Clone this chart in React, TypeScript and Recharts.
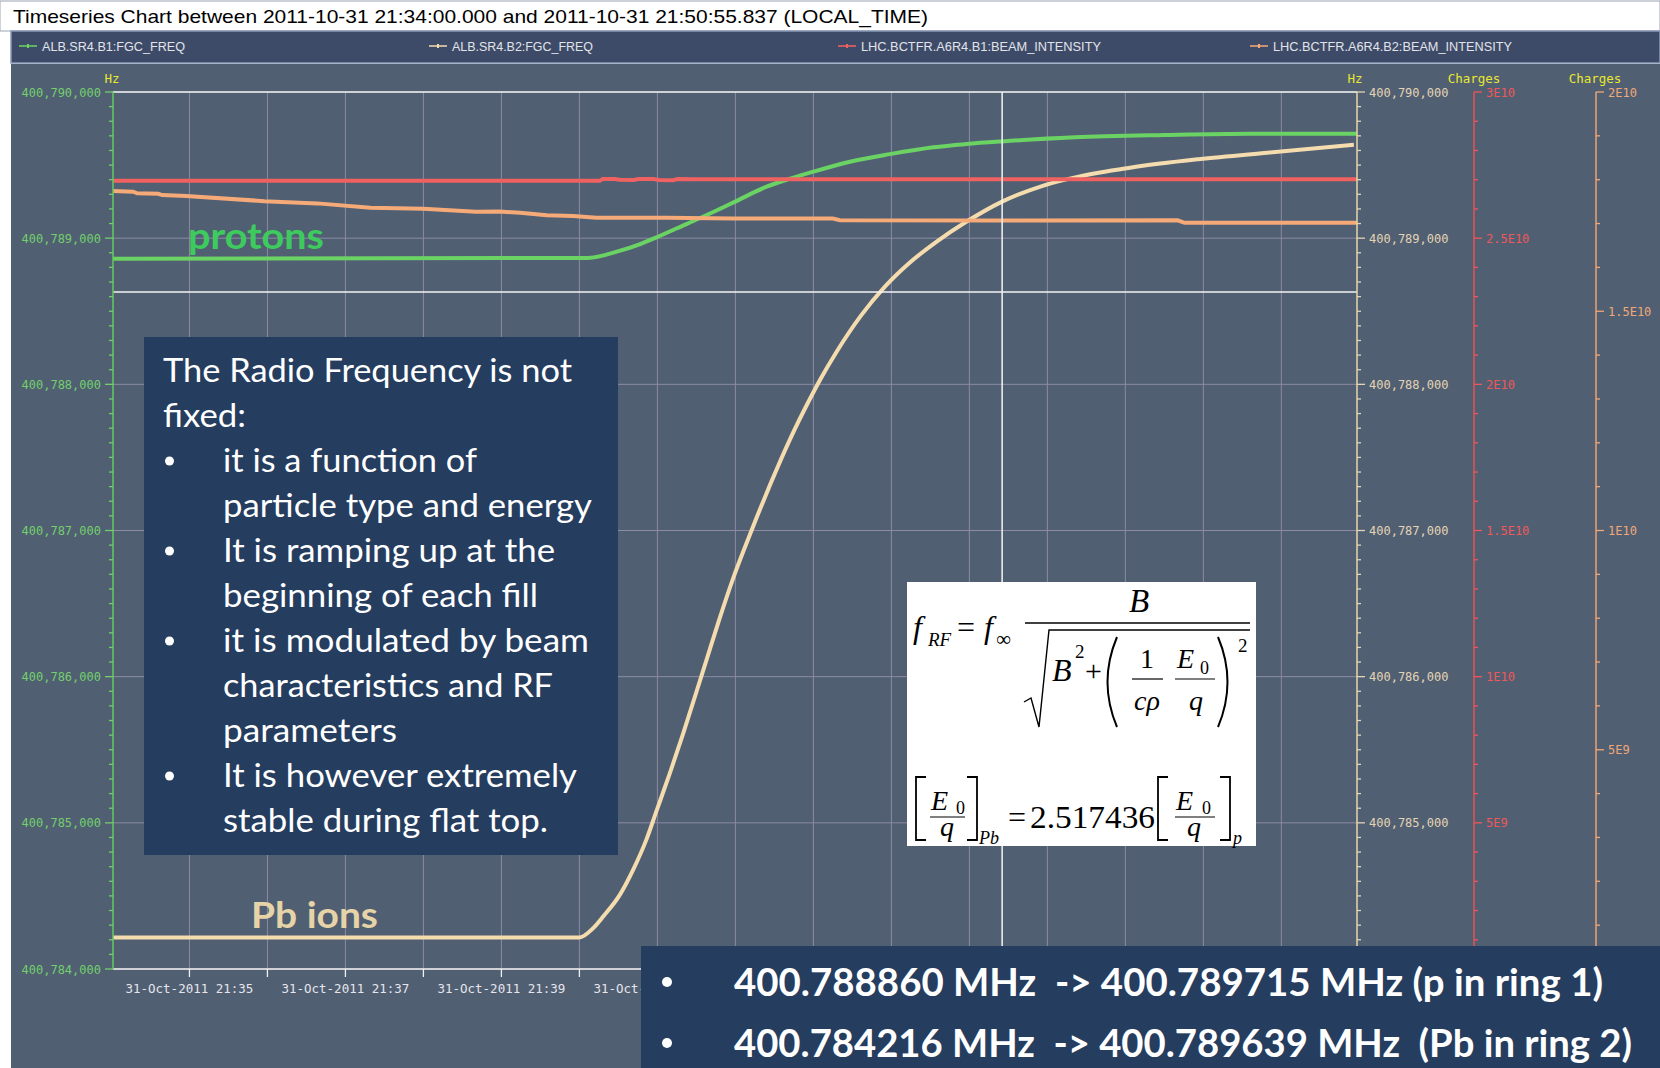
import { LineChart, Line, XAxis, YAxis, CartesianGrid, ReferenceLine } from "recharts";

// minutes after 31-Oct-2011 21:34:00
const protonMinutes = [0.02, 6.11, 6.48, 6.78, 6.99, 7.25, 7.54, 7.97, 8.4, 8.7, 9.0, 9.47, 9.98, 10.54, 10.96, 11.42, 12.35, 13.5, 14.6, 15.97];
const protonHz = [400788860, 400788865, 400788908, 400788960, 400789006, 400789068, 400789136, 400789243, 400789352, 400789407, 400789455, 400789523, 400789575, 400789622, 400789644, 400789662, 400789690, 400789706, 400789715, 400789715];

const leadMinutes = [0.02, 6.0, 6.18, 6.31, 6.52, 6.69, 6.86, 6.99, 7.16, 7.33, 7.5, 7.63, 7.8, 7.97, 8.14, 8.27, 8.44, 8.7, 8.96, 9.09, 9.3, 9.61, 9.92, 10.23, 10.59, 10.94, 11.42, 11.95, 12.4, 13.06, 13.94, 14.82, 15.93];
const leadHz = [400784216, 400784216, 400784281, 400784362, 400784509, 400784680, 400784887, 400785083, 400785340, 400785610, 400785895, 400786115, 400786402, 400786671, 400786910, 400787086, 400787307, 400787624, 400787905, 400788035, 400788225, 400788470, 400788670, 400788830, 400788980, 400789105, 400789250, 400789360, 400789421, 400789482, 400789540, 400789585, 400789639];

const b1IntensityMinutes = [0.02, 6.26, 6.3, 6.45, 6.52, 6.7, 6.76, 6.95, 7.02, 7.2, 7.26, 7.45, 7.5, 15.97];
const b1Intensity = [2.6966e10, 2.6966e10, 2.7024e10, 2.7024e10, 2.6995e10, 2.699e10, 2.7022e10, 2.702e10, 2.6988e10, 2.6985e10, 2.702e10, 2.7018e10, 2.7014e10, 2.7014e10];

const b2IntensityMinutes = [0.02, 0.28, 0.33, 0.6, 0.65, 0.96, 1.96, 2.64, 3.32, 4.0, 4.67, 4.98, 5.24, 5.58, 5.92, 6.22, 7.12, 7.97, 9.25, 9.34, 11.39, 13.67, 13.76, 15.97];
const b2Intensity = [1.774e10, 1.7725e10, 1.769e10, 1.768e10, 1.765e10, 1.763e10, 1.751e10, 1.746e10, 1.736e10, 1.734e10, 1.727e10, 1.7273e10, 1.7245e10, 1.719e10, 1.717e10, 1.713e10, 1.7132e10, 1.7113e10, 1.7113e10, 1.7075e10, 1.707e10, 1.7075e10, 1.7017e10, 1.7017e10];

const minuteTicks = [1, 2, 3, 4, 5, 6, 7, 8, 9, 10, 11, 12, 13, 14, 15];
const minuteLabels = ["21:35", "21:36", "21:37", "21:38", "21:39", "21:40", "21:41", "21:42", "21:43", "21:44", "21:45", "21:46", "21:47", "21:48", "21:49"];

const hzMajor = [400784000, 400785000, 400786000, 400787000, 400788000, 400789000, 400790000];
const hzLabels = ["400,784,000", "400,785,000", "400,786,000", "400,787,000", "400,788,000", "400,789,000", "400,790,000"];
const b1Major = [5e9, 1e10, 1.5e10, 2e10, 2.5e10, 3e10];
const b1Labels = ["5E9", "1E10", "1.5E10", "2E10", "2.5E10", "3E10"];
const b2Major = [5e9, 1e10, 1.5e10, 2e10];
const b2Labels = ["5E9", "1E10", "1.5E10", "2E10"];

const crosshairMinute = 11.42;
const crosshairHz = 400788632;

const legendNames = ["ALB.SR4.B1:FGC_FREQ", "ALB.SR4.B2:FGC_FREQ", "LHC.BCTFR.A6R4.B1:BEAM_INTENSITY", "LHC.BCTFR.A6R4.B2:BEAM_INTENSITY"];

const GREEN = "#6bd363";
const WHEAT = "#f5dcae";
const RED = "#f06262";
const ORANGE = "#f5aa78";
const BG = "#515f73";
const NAVY = "#253d5f";
const YELLOW = "#e8e830";

const toRows = (xs: number[], ys: number[]) => xs.map((t, i) => ({ t, v: ys[i] }));
const protonData = toRows(protonMinutes, protonHz);
const leadData = toRows(leadMinutes, leadHz);
const b1Data = toRows(b1IntensityMinutes, b1Intensity);
const b2Data = toRows(b2IntensityMinutes, b2Intensity);

// minor tick positions between the labelled majors
const subTicks = (lo: number, hi: number, step: number) => {
  const out: number[] = [];
  const n = Math.round((hi - lo) / step);
  for (let i = 0; i <= n; i++) out.push(lo + i * step);
  return out;
};

const makeYTick = (side: "left" | "right", color: string, majors: number[], labels: string[]) => (props: any) => {
  const { x, y, payload } = props;
  const idx = majors.findIndex((m) => Math.abs(m - payload.value) < Math.abs(m) * 1e-9 + 1e-3);
  const dir = side === "left" ? -1 : 1;
  const len = idx >= 0 ? 8 : 4;
  // right-hand labels at the very bottom are hidden by the summary box
  const show = idx >= 0 && !(side === "right" && y > 940);
  return (
    <g>
      <line x1={x} x2={x + dir * len} y1={y} y2={y} stroke={color} strokeWidth={1.3} />
      {show && (
        <text x={x + dir * 12} y={y} dy={4.5} textAnchor={side === "left" ? "end" : "start"} fill={color} fontSize={12} fontFamily="DejaVu Sans Mono">
          {labels[idx]}
        </text>
      )}
    </g>
  );
};

const LeftHzTick = makeYTick("left", "#72cf6c", hzMajor, hzLabels);
const RightHzTick = makeYTick("right", "#e3d4b4", hzMajor, hzLabels);
const B1Tick = makeYTick("right", "#ee5858", b1Major, b1Labels);
const B2Tick = makeYTick("right", "#f0a878", b2Major, b2Labels);

const TimeTick = (props: any) => {
  const { x, y, payload } = props;
  const i = minuteTicks.indexOf(payload.value);
  // labels further right sit under the summary box
  const show = i >= 0 && i % 2 === 0 && x < 700;
  return (
    <g>
      <line x1={x} x2={x} y1={y} y2={y + 8} stroke="#f0f0f0" strokeWidth={1.3} />
      {show && (
        <text x={x} y={y + 23.5} textAnchor="middle" fill="#e6e6ec" fontSize={12.5} fontFamily="DejaVu Sans Mono">
          {"31-Oct-2011 " + minuteLabels[i]}
        </text>
      )}
    </g>
  );
};

const boxLines = [
  { text: "The Radio Frequency is not", x: 163, w: 409, bullet: false },
  { text: "fixed:", x: 163, w: 83, bullet: false },
  { text: "it is a function of", x: 223, w: 254, bullet: true },
  { text: "particle type and energy", x: 223, w: 369, bullet: false },
  { text: "It is ramping up at the", x: 223, w: 332, bullet: true },
  { text: "beginning of each fill", x: 223, w: 315, bullet: false },
  { text: "it is modulated by beam", x: 223, w: 366, bullet: true },
  { text: "characteristics and RF", x: 223, w: 330, bullet: false },
  { text: "parameters", x: 223, w: 174, bullet: false },
  { text: "It is however extremely", x: 223, w: 354, bullet: true },
  { text: "stable during flat top.", x: 223, w: 325, bullet: false },
];

const serif = "Liberation Serif, DejaVu Serif, serif";

const Formula = () => (
  <g fill="#000" fontFamily={serif}>
    <rect x={907} y={582} width={349} height={264} fill="#ffffff" />
    <text x={913} y={638} fontSize={32} fontStyle="italic">f</text>
    <text x={928} y={646} fontSize={19} fontStyle="italic">RF</text>
    <text x={957} y={638} fontSize={32}>=</text>
    <text x={984} y={638} fontSize={32} fontStyle="italic">f</text>
    <text x={996} y={646} fontSize={21}>∞</text>
    <text x={1139} y={612} fontSize={33} fontStyle="italic" textAnchor="middle">B</text>
    <line x1={1025} x2={1250} y1={623} y2={623} stroke="#000" strokeWidth={1.3} />
    <path d="M1024,702 L1031,698 L1039,727 L1049,630 L1250,630" fill="none" stroke="#000" strokeWidth={1.4} />
    <text x={1052} y={681} fontSize={32} fontStyle="italic">B</text>
    <text x={1075} y={658} fontSize={19}>2</text>
    <text x={1085} y={681} fontSize={30}>+</text>
    <path d="M1117,637 Q1098,682 1117,727" fill="none" stroke="#000" strokeWidth={2} />
    <text x={1147} y={668} fontSize={28} textAnchor="middle">1</text>
    <line x1={1132} x2={1163} y1={679} y2={679} stroke="#000" strokeWidth={1.2} />
    <text x={1147} y={710} fontSize={28} fontStyle="italic" textAnchor="middle">cρ</text>
    <text x={1177} y={668} fontSize={28} fontStyle="italic">E</text>
    <text x={1200} y={674} fontSize={18}>0</text>
    <line x1={1175} x2={1215} y1={679} y2={679} stroke="#000" strokeWidth={1.2} />
    <text x={1196} y={710} fontSize={28} fontStyle="italic" textAnchor="middle">q</text>
    <path d="M1218,637 Q1237,682 1218,727" fill="none" stroke="#000" strokeWidth={2} />
    <text x={1238} y={652} fontSize={19}>2</text>

    <path d="M926,777 L916,777 L916,840 L926,840" fill="none" stroke="#000" strokeWidth={1.8} />
    <text x={931} y={810} fontSize={28} fontStyle="italic">E</text>
    <text x={956} y={814} fontSize={18}>0</text>
    <line x1={930} x2={965} y1={817} y2={817} stroke="#000" strokeWidth={1.2} />
    <text x={947} y={836} fontSize={28} fontStyle="italic" textAnchor="middle">q</text>
    <path d="M967,777 L977,777 L977,840 L967,840" fill="none" stroke="#000" strokeWidth={1.8} />
    <text x={979} y={844} fontSize={18} fontStyle="italic">Pb</text>
    <text x={1008} y={828} fontSize={32}>=</text>
    <text x={1030} y={828} fontSize={32} textLength={125} lengthAdjust="spacingAndGlyphs">2.517436</text>
    <path d="M1168,777 L1158,777 L1158,840 L1168,840" fill="none" stroke="#000" strokeWidth={1.8} />
    <text x={1176} y={810} fontSize={28} fontStyle="italic">E</text>
    <text x={1202} y={814} fontSize={18}>0</text>
    <line x1={1175} x2={1215} y1={817} y2={817} stroke="#000" strokeWidth={1.2} />
    <text x={1194} y={836} fontSize={28} fontStyle="italic" textAnchor="middle">q</text>
    <path d="M1220,777 L1230,777 L1230,840 L1220,840" fill="none" stroke="#000" strokeWidth={1.8} />
    <text x={1233} y={844} fontSize={18} fontStyle="italic">p</text>
  </g>
);

const legendX = [19, 429, 838, 1250];
const legendColors = [GREEN, WHEAT, RED, ORANGE];
const legendWidths = [143, 141, 240, 239];

export default function App() {
  return (
    <div style={{ position: "absolute", left: 0, top: 0, width: 1660, height: 1068, overflow: "hidden", background: "#fff" }}>
      <svg width={1660} height={1068} style={{ position: "absolute", left: 0, top: 0 }}>
        <rect x={0} y={1} width={1660} height={30} fill="#fff" stroke="#9aa4b4" strokeWidth={1} />
        <rect x={11} y={31} width={1649} height={32} fill="#3d4b68" stroke="#8a9bb8" strokeWidth={1.5} />
        <rect x={11} y={64} width={1649} height={1004} fill={BG} />
      </svg>

      <div style={{ position: "absolute", left: 0, top: 0 }}>
        <LineChart width={1660} height={1068} margin={{ top: 92, right: 0, bottom: 59, left: 13 }}>
          <CartesianGrid yAxisId="left" horizontalValues={hzMajor} verticalValues={minuteTicks} stroke="#8d8aa4" strokeWidth={1} />
          <XAxis dataKey="t" type="number" domain={[0.02, 15.97]} allowDataOverflow ticks={minuteTicks} interval={0}
            tick={TimeTick} tickSize={0} tickMargin={0} tickLine={false} height={40}
            axisLine={{ stroke: "#f0f0f0", strokeWidth: 1.5 }} />
          <YAxis yAxisId="left" orientation="left" type="number" width={100} domain={[400784000, 400790000]} allowDataOverflow
            ticks={subTicks(400784000, 400790000, 100)} interval={0} tick={LeftHzTick} tickSize={0} tickMargin={0} tickLine={false}
            axisLine={{ stroke: "#63c85f", strokeWidth: 1.5 }} />
          <YAxis yAxisId="rA_hz" orientation="right" type="number" width={117} domain={[400784000, 400790000]} allowDataOverflow
            ticks={subTicks(400784000, 400790000, 100)} interval={0} tick={RightHzTick} tickSize={0} tickMargin={0} tickLine={false}
            axisLine={{ stroke: "#e6d4aa", strokeWidth: 1.5 }} />
          <YAxis yAxisId="rB_b1" orientation="right" type="number" width={122} domain={[0, 3e10]} allowDataOverflow
            ticks={subTicks(0, 3e10, 1e9)} interval={0} tick={B1Tick} tickSize={0} tickMargin={0} tickLine={false}
            axisLine={{ stroke: "#e85252", strokeWidth: 1.5 }} />
          <YAxis yAxisId="rC_b2" orientation="right" type="number" width={64} domain={[0, 2e10]} allowDataOverflow
            ticks={subTicks(0, 2e10, 1e9)} interval={0} tick={B2Tick} tickSize={0} tickMargin={0} tickLine={false}
            axisLine={{ stroke: "#eea070", strokeWidth: 1.5 }} />
          <ReferenceLine yAxisId="left" y={400790000} stroke="#f2f2f2" strokeWidth={1.5} />
          <Line yAxisId="left" data={protonData} dataKey="v" type="monotone" stroke={GREEN} strokeWidth={4} dot={false} isAnimationActive={false} />
          <Line yAxisId="rA_hz" data={leadData} dataKey="v" type="monotone" stroke={WHEAT} strokeWidth={4} dot={false} isAnimationActive={false} />
          <Line yAxisId="rB_b1" data={b1Data} dataKey="v" type="linear" stroke={RED} strokeWidth={4} dot={false} isAnimationActive={false} />
          <Line yAxisId="rC_b2" data={b2Data} dataKey="v" type="linear" stroke={ORANGE} strokeWidth={4} dot={false} isAnimationActive={false} />
          <ReferenceLine yAxisId="left" y={crosshairHz} stroke="#f4f4f4" strokeWidth={1.5} />
          <ReferenceLine yAxisId="left" x={crosshairMinute} stroke="#f4f4f4" strokeWidth={1.5} />
        </LineChart>
      </div>

      <svg width={1660} height={1068} style={{ position: "absolute", left: 0, top: 0, pointerEvents: "none" }}>
        <text x={13} y={23} fontSize={19} fontFamily="Liberation Sans, Arial, sans-serif" fill="#000" textLength={915} lengthAdjust="spacingAndGlyphs">
          Timeseries Chart between 2011-10-31 21:34:00.000 and 2011-10-31 21:50:55.837 (LOCAL_TIME)
        </text>
        {legendNames.map((name, i) => (
          <g key={name}>
            <line x1={legendX[i]} x2={legendX[i] + 18} y1={46} y2={46} stroke={legendColors[i]} strokeWidth={1.5} />
            <line x1={legendX[i] + 9} x2={legendX[i] + 9} y1={44} y2={48} stroke={legendColors[i]} strokeWidth={2} />
            <text x={legendX[i] + 23} y={50.5} fontSize={12.5} fontFamily="Liberation Sans, Arial, sans-serif" fill="#e2e4ea"
              textLength={legendWidths[i]} lengthAdjust="spacingAndGlyphs">{name}</text>
          </g>
        ))}

        <g fill={YELLOW} fontSize={12.5} fontFamily="DejaVu Sans Mono">
          <text x={112} y={83} textAnchor="middle">Hz</text>
          <text x={1355} y={83} textAnchor="middle">Hz</text>
          <text x={1474} y={83} textAnchor="middle">Charges</text>
          <text x={1595} y={83} textAnchor="middle">Charges</text>
        </g>

        <text x={188} y={249} fontSize={37} fontWeight={700} fontFamily="Lato, sans-serif" fill="#3ecb5e" textLength={136} lengthAdjust="spacingAndGlyphs">protons</text>
        <text x={251} y={928} fontSize={37} fontWeight={700} fontFamily="Lato, sans-serif" fill="#e6d3a8" textLength={127} lengthAdjust="spacingAndGlyphs">Pb ions</text>

        <rect x={144} y={337} width={474} height={518} fill={NAVY} />
        {boxLines.map((ln, i) => (
          <g key={ln.text}>
            {ln.bullet && <circle cx={169.5} cy={382 + i * 45 - 11} r={4.5} fill="#fff" />}
            <text x={ln.x} y={382 + i * 45} fontSize={33} fontFamily="Lato, sans-serif" fill="#fff" textLength={ln.w} lengthAdjust="spacingAndGlyphs">
              {ln.text}
            </text>
          </g>
        ))}

        <Formula />

        <rect x={641} y={946} width={1019} height={122} fill={NAVY} />
        <circle cx={667} cy={982} r={5} fill="#fff" />
        <text x={734} y={996} fontSize={38} fontWeight={700} fontFamily="Lato, sans-serif" fill="#fff" textLength={869} lengthAdjust="spacingAndGlyphs" xmlSpace="preserve">
          400.788860 MHz  -&gt; 400.789715 MHz (p in ring 1)
        </text>
        <circle cx={667} cy={1043} r={5} fill="#fff" />
        <text x={734} y={1057} fontSize={38} fontWeight={700} fontFamily="Lato, sans-serif" fill="#fff" textLength={898} lengthAdjust="spacingAndGlyphs" xmlSpace="preserve">
          400.784216 MHz  -&gt; 400.789639 MHz  (Pb in ring 2)
        </text>
      </svg>
    </div>
  );
}
